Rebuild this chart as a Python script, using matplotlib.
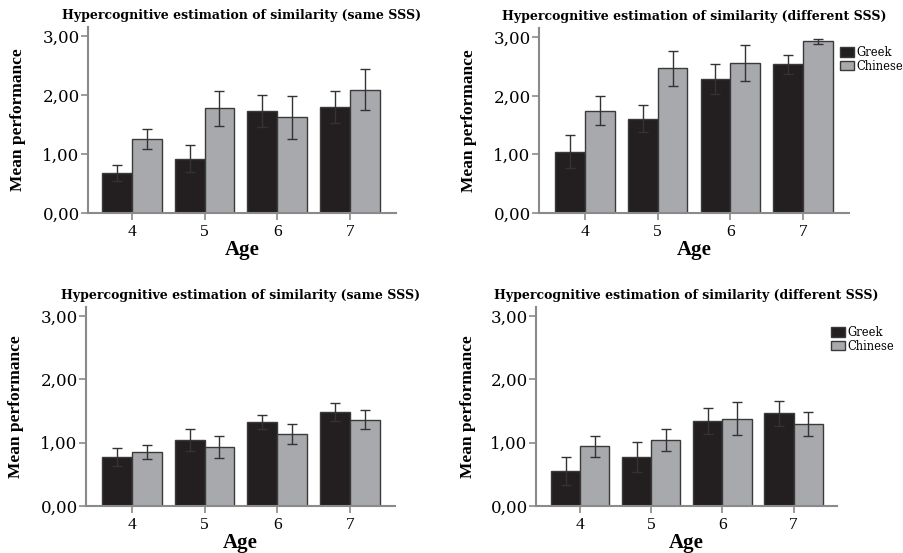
import matplotlib
matplotlib.use('Agg')
import matplotlib.pyplot as plt
import numpy as np
from matplotlib.patches import Patch

plt.rcParams['font.family'] = ['DejaVu Serif']

ages = ['4', '5', '6', '7']
groups = ['Greek', 'Chinese']

# top-left: same SSS (first set)
tl_greek = [0.68, 0.92, 1.73, 1.80]
tl_greek_err = [0.14, 0.23, 0.27, 0.27]
tl_chinese = [1.25, 1.77, 1.62, 2.09]
tl_chinese_err = [0.17, 0.30, 0.36, 0.35]

# top-right: different SSS (first set)
tr_greek = [1.05, 1.61, 2.29, 2.54]
tr_greek_err = [0.28, 0.23, 0.26, 0.16]
tr_chinese = [1.75, 2.47, 2.56, 2.93]
tr_chinese_err = [0.25, 0.30, 0.31, 0.05]

# bottom-left: same SSS (second set)
bl_greek = [0.77, 1.04, 1.32, 1.48]
bl_greek_err = [0.14, 0.17, 0.11, 0.14]
bl_chinese = [0.85, 0.93, 1.14, 1.36]
bl_chinese_err = [0.11, 0.18, 0.16, 0.15]

# bottom-right: different SSS (second set)
br_greek = [0.55, 0.77, 1.34, 1.46]
br_greek_err = [0.22, 0.24, 0.21, 0.19]
br_chinese = [0.94, 1.04, 1.38, 1.29]
br_chinese_err = [0.17, 0.17, 0.26, 0.19]

title_same = 'Hypercognitive estimation of similarity (same SSS)'
title_diff = 'Hypercognitive estimation of similarity (different SSS)'

greek_col = '#231f20'
chinese_col = '#a7a9ac'
edge_col = '#3a3a3a'
spine_col = '#8a8a8a'

W, H = 904, 553
fig = plt.figure(figsize=(W / 100, H / 100), dpi=100)


def px_axes(left, right, top, bottom):
    return fig.add_axes([left / W, 1 - bottom / H, (right - left) / W, (bottom - top) / H])


panels = [
    (px_axes(88, 396, 27, 213), title_same, tl_greek, tl_greek_err, tl_chinese, tl_chinese_err,
     (-0.60, 3.63), 3.15),
    (px_axes(539, 849, 28, 213), title_diff, tr_greek, tr_greek_err, tr_chinese, tr_chinese_err,
     (-0.63, 3.63), 3.16),
    (px_axes(86, 395, 307, 506), title_same, bl_greek, bl_greek_err, bl_chinese, bl_chinese_err,
     (-0.63, 3.62), 3.14),
    (px_axes(536, 837, 307, 506), title_diff, br_greek, br_greek_err, br_chinese, br_chinese_err,
     (-0.62, 3.61), 3.14),
]

x = np.arange(len(ages))
w = 0.41
for ax, title, g, ge, c, ce, xl, ytop in panels:
    ax.bar(x - w / 2, g, w, color=greek_col, edgecolor=edge_col, linewidth=1.0)
    ax.bar(x + w / 2, c, w, color=chinese_col, edgecolor=edge_col, linewidth=1.0)
    ax.errorbar(x - w / 2, g, yerr=ge, fmt='none', ecolor='#333333', elinewidth=1.0, capsize=3.5, capthick=1.0)
    ax.errorbar(x + w / 2, c, yerr=ce, fmt='none', ecolor='#333333', elinewidth=1.0, capsize=3.5, capthick=1.0)
    ax.set_xlim(*xl)
    ax.set_ylim(0, ytop)
    ax.set_xticks(x)
    ax.set_xticklabels(ages, fontsize=12.5, family='Liberation Serif')
    ax.set_yticks([0, 1, 2, 3])
    ax.set_yticklabels(['0,00', '1,00', '2,00', '3,00'], fontsize=12)
    for s in ['top', 'right']:
        ax.spines[s].set_visible(False)
    for s in ['left', 'bottom']:
        ax.spines[s].set_color(spine_col)
        ax.spines[s].set_linewidth(1.5)
    ax.tick_params(axis='both', direction='out', length=5, width=1.2, color=spine_col)
    ax.tick_params(axis='x', pad=3)
    ax.tick_params(axis='y', pad=1)
    hpx = ax.get_position().height * H
    ax.set_xlabel('Age', fontsize=15, fontweight='bold', family='Liberation Serif')
    ax.xaxis.set_label_coords(0.5, -27 / hpx)
    ax.set_ylabel('Mean performance', fontsize=12.5, fontweight='bold', family='Liberation Serif')
    ax.yaxis.set_label_coords(-0.2, 0.5)
    ax.set_title(title, fontsize=9, fontweight='bold', pad=6)

handles = [Patch(facecolor=greek_col, edgecolor=edge_col), Patch(facecolor=chinese_col, edgecolor=edge_col)]
for left, top in ((840, 46), (831, 326)):
    fig.legend(handles, groups, loc='upper left', bbox_to_anchor=(left / W, 1 - top / H),
               frameon=False, fontsize=8.3, handlelength=1.2, handleheight=0.9,
               handletextpad=0.2, labelspacing=0.05, borderaxespad=0, borderpad=0)

fig.savefig('out.png', dpi=100)
